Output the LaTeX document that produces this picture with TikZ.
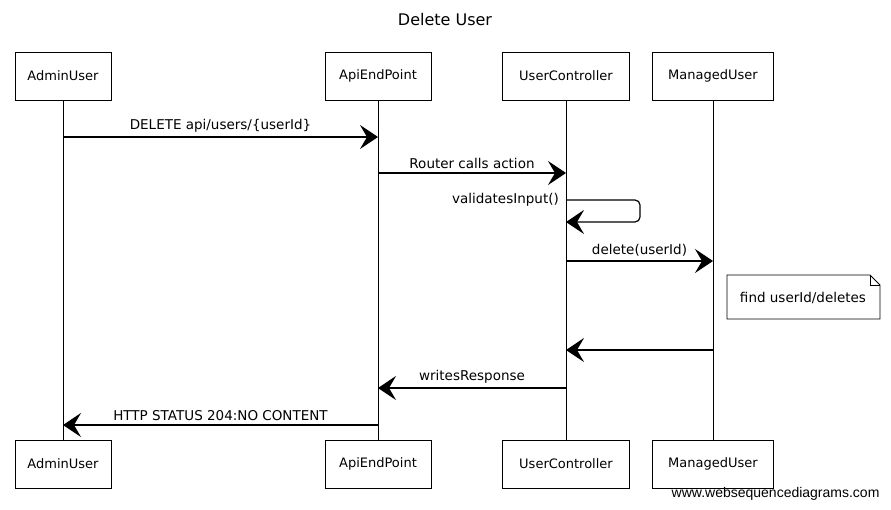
\documentclass[tikz,border=0pt]{standalone}
\usepackage{fontspec}
\setmainfont{DejaVu Sans}
\newfontfamily\wsdfont{Liberation Sans}
\usetikzlibrary{arrows.meta}

\begin{document}
\begin{tikzpicture}[x=1pt, y=-1pt,
  actor/.style={draw=black, fill=white, line width=0.8pt, minimum height=48pt, inner sep=0pt, font=\fontsize{13}{15}\selectfont},
  msg/.style={draw=black, line width=1.2pt, -{Stealth[length=18pt, width=24pt, inset=7pt]}},
  lbl/.style={font=\fontsize{13.5}{15}\selectfont, inner sep=1pt}]
\useasboundingbox (0,0) rectangle (891,509);

% Title
\node[font=\fontsize{16}{18}\selectfont] (title) at (445,20) {Delete User};

% Actors
\node[actor, minimum width=96pt] (admin) at (63,76) {AdminUser};
\node[actor, minimum width=106pt] (api) at (378,76) {ApiEndPoint};
\node[actor, minimum width=127pt] (ctrl) at (566,76) {UserController};
\node[actor, minimum width=121pt] (managed) at (713,76) {ManagedUser};

\node[actor, minimum width=96pt] (adminB) at (63,464) {AdminUser};
\node[actor, minimum width=106pt] (apiB) at (378,464) {ApiEndPoint};
\node[actor, minimum width=127pt] (ctrlB) at (566,464) {UserController};
\node[actor, minimum width=121pt] (managedB) at (713,464) {ManagedUser};

% Lifelines
\draw (admin.south) -- (adminB.north);
\draw (api.south) -- (apiB.north);
\draw (ctrl.south) -- (ctrlB.north);
\draw (managed.south) -- (managedB.north);

% Points on the lifelines
\coordinate (adminDel) at (admin.south |- 0,137);
\coordinate (apiDel) at (api.south |- 0,137);
\coordinate (apiRoute) at (api.south |- 0,173);
\coordinate (ctrlRoute) at (ctrl.south |- 0,173);
\coordinate (ctrlVal) at (ctrl.south |- 0,200);
\coordinate (valTurn) at (640,200);
\coordinate (ctrlValBack) at (ctrl.south |- 0,222);
\coordinate (ctrlDel) at (ctrl.south |- 0,261);
\coordinate (managedDel) at (managed.south |- 0,261);
\coordinate (managedBack) at (managed.south |- 0,350);
\coordinate (ctrlBack) at (ctrl.south |- 0,350);
\coordinate (ctrlResp) at (ctrl.south |- 0,388);
\coordinate (apiResp) at (api.south |- 0,388);
\coordinate (apiStatus) at (api.south |- 0,425);
\coordinate (adminStatus) at (admin.south |- 0,425);

% Messages
\draw[msg] (adminDel) -- node[lbl, above=3pt] (delLbl) {DELETE api/users/\{userId\}} (apiDel);
\draw[msg] (apiRoute) -- node[lbl, above=3pt] (routeLbl) {Router calls action} (ctrlRoute);
\draw[msg, rounded corners=5pt] (ctrlVal) -- (valTurn) |- (ctrlValBack);
\node[lbl, anchor=east] (valLbl) at ([xshift=-6pt]ctrlVal) {validatesInput()};
\draw[msg] (ctrlDel) -- node[lbl, above=3pt] (delCallLbl) {delete(userId)} (managedDel);
\draw[msg] (managedBack) -- (ctrlBack);
\draw[msg] (ctrlResp) -- node[lbl, above=3pt] (respLbl) {writesResponse} (apiResp);
\draw[msg] (apiStatus) -- node[lbl, above=3pt] (statusLbl) {HTTP STATUS 204:NO CONTENT} (adminStatus);

% Note
\draw[fill=white, line width=0.8pt] (727,275) -- (870,275) -- (880,285) -- (880,319) -- (727,319) -- cycle;
\draw[line width=0.8pt] (870,275) -- (870,285) -- (880,285);
\node[lbl] (note) at (803,298) {find userId/deletes};

% Watermark
\node[font=\wsdfont\fontsize{14}{16}\selectfont, anchor=east] (wsd) at (883,494) {www.websequencediagrams.com};
\end{tikzpicture}
\end{document}
